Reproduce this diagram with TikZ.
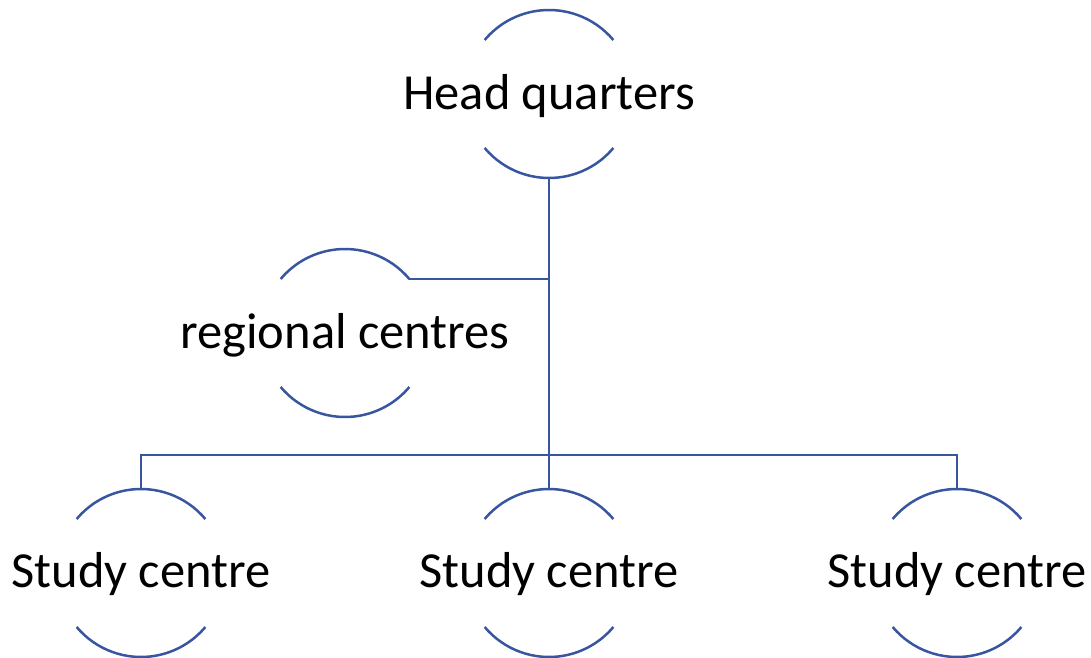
\documentclass[tikz,border=0pt]{standalone}
\usepackage{fontspec}
\setmainfont{Carlito}
\definecolor{linecol}{RGB}{56,86,160}
\begin{document}
\begin{tikzpicture}[x=1pt,y=1pt,
  ring/.style={circle,minimum size=168pt,inner sep=0pt,outer sep=0pt,draw=none},
  lbl/.style={anchor=base,inner sep=0pt,font=\fontsize{50.5}{60}\selectfont},
  conn/.style={draw=linecol,line width=2.5pt},
  arcs/.style={draw=linecol,line width=2.5pt}]
\useasboundingbox (0,0) rectangle (1091,657);
% circles (invisible shapes)
\node[ring] (hq) at (549,563) {};
\node[ring] (rc) at (345,324) {};
\node[ring] (sc1) at (141,84) {};
\node[ring] (sc2) at (549,84) {};
\node[ring] (sc3) at (957,84) {};
% arcs
\foreach \n in {hq,rc,sc1,sc2,sc3}{
  \draw[arcs] (\n.40) arc[start angle=40,end angle=140,radius=84pt];
  \draw[arcs] (\n.220) arc[start angle=220,end angle=320,radius=84pt];
}
% texts
\node[lbl] (hqt) at ([yshift=-16pt]hq.center) {Head quarters};
\node[lbl] (rct) at ([yshift=-15pt]rc.center) {regional centres};
\node[lbl] (sc1t) at ([yshift=-14pt]sc1.center) {Study centre};
\node[lbl] (sc2t) at ([yshift=-14pt]sc2.center) {Study centre};
\node[lbl] (sc3t) at ([yshift=-14pt]sc3.center) {Study centre};
% connectors
\coordinate (bus) at (549,202);
\draw[conn] (hq.south) -- (bus);
\draw[conn] (rc.40) -- (rc.40 -| hq.south);
\draw[conn] (sc1.north) |- (bus) -| (sc3.north);
\draw[conn] (bus) -- (sc2.north);
\end{tikzpicture}
\end{document}
